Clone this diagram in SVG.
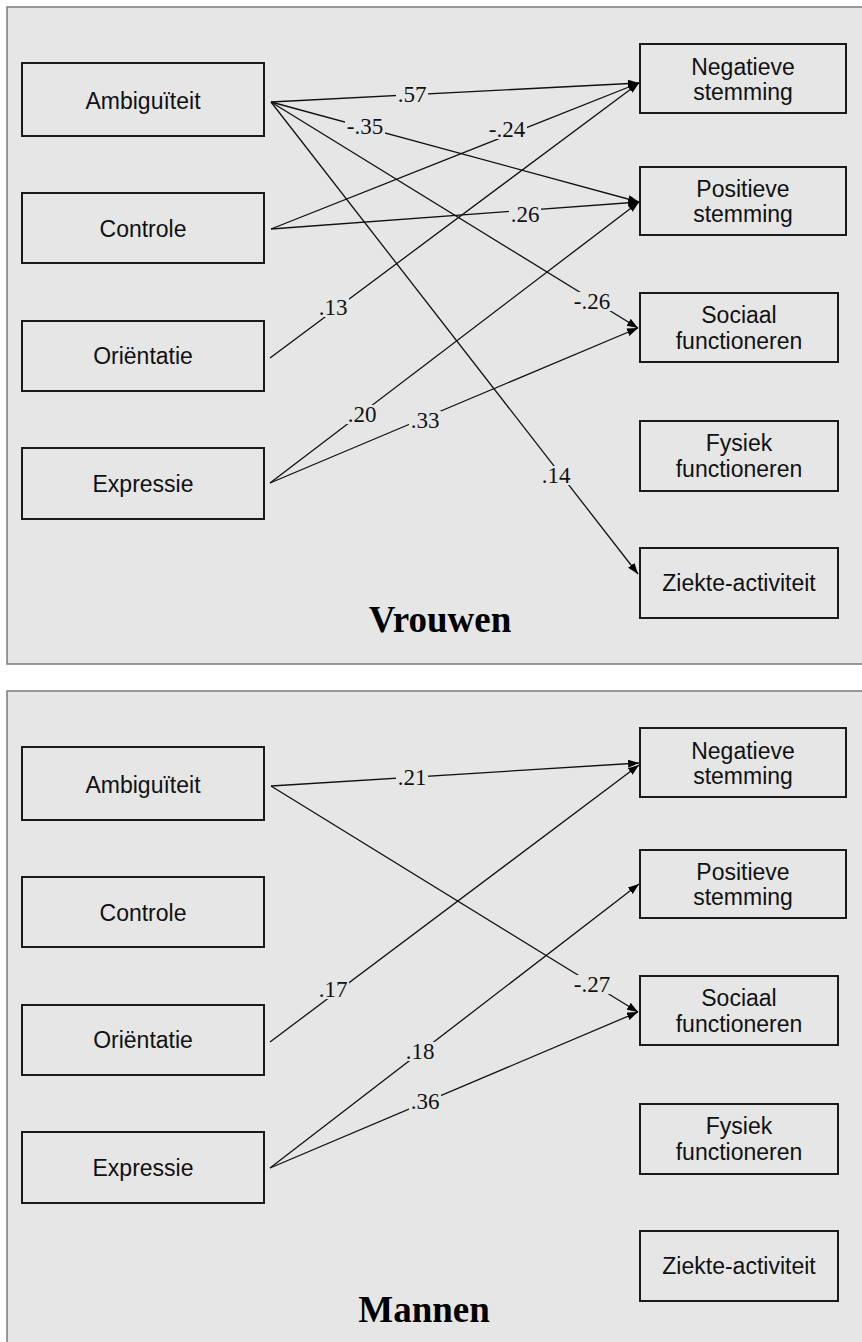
<svg xmlns="http://www.w3.org/2000/svg" width="862" height="1342" viewBox="0 0 862 1342">
<style>
.panel{fill:#e6e6e6;stroke:#7a7a7a;stroke-width:1.5}
.box{fill:none;stroke:#1a1a1a;stroke-width:2}
.bt{font-family:"Liberation Sans",Arial,sans-serif;font-size:23px;fill:#111;text-anchor:middle}
.lbl{font-family:"Liberation Serif","Times New Roman",serif;font-size:23px;fill:#111;text-anchor:middle}
.lb{fill:#e6e6e6}
.title{font-family:"Liberation Serif","Times New Roman",serif;font-size:37px;font-weight:bold;fill:#000;text-anchor:middle}
.edge{stroke:#111;stroke-width:1.3;fill:none;marker-end:url(#ah)}
</style>
<defs>
<marker id="ah" markerUnits="userSpaceOnUse" markerWidth="12" markerHeight="9" refX="11" refY="4" orient="auto">
<path d="M0,0 L11,4 L0,8 z" fill="#000"/>
</marker>
</defs>
<rect width="862" height="1342" fill="#fff"/>
<rect class="panel" x="7" y="7" width="860" height="657"/>
<rect class="panel" x="7" y="691" width="860" height="670"/>

<!-- Top panel: Vrouwen -->
<g id="connectors-top">
<line class="edge" x1="271" y1="102" x2="639" y2="83"/>
<line class="edge" x1="271" y1="102" x2="639" y2="202"/>
<line class="edge" x1="271" y1="102" x2="638" y2="328"/>
<line class="edge" x1="271" y1="102" x2="638" y2="574"/>
<line class="edge" x1="271" y1="229" x2="639" y2="83"/>
<line class="edge" x1="271" y1="229" x2="639" y2="202"/>
<line class="edge" x1="270" y1="358" x2="639" y2="83"/>
<line class="edge" x1="270" y1="483" x2="639" y2="202"/>
<line class="edge" x1="270" y1="483" x2="638" y2="328"/>
<rect class="lb" x="396" y="85" width="32" height="19"/><text class="lbl" x="412" y="102">.57</text>
<rect class="lb" x="345" y="117" width="40" height="19"/><text class="lbl" x="365" y="134">-.35</text>
<rect class="lb" x="487" y="120" width="40" height="19"/><text class="lbl" x="507" y="137">-.24</text>
<rect class="lb" x="509" y="205" width="32" height="19"/><text class="lbl" x="525" y="222">.26</text>
<rect class="lb" x="317" y="298" width="32" height="19"/><text class="lbl" x="333" y="315">.13</text>
<rect class="lb" x="572" y="292" width="40" height="19"/><text class="lbl" x="592" y="309">-.26</text>
<rect class="lb" x="346" y="405" width="32" height="19"/><text class="lbl" x="362" y="422">.20</text>
<rect class="lb" x="409" y="411" width="32" height="19"/><text class="lbl" x="425" y="428">.33</text>
<rect class="lb" x="540" y="466" width="32" height="19"/><text class="lbl" x="556" y="483">.14</text>
</g>
<g id="t-ambiguiteit"><rect class="box" x="22" y="63" width="242" height="73"/><text class="bt" x="143" y="109">Ambiguïteit</text></g>
<g id="t-controle"><rect class="box" x="22" y="193" width="242" height="70"/><text class="bt" x="143" y="237">Controle</text></g>
<g id="t-orientatie"><rect class="box" x="22" y="321" width="242" height="70"/><text class="bt" x="143" y="364">Oriëntatie</text></g>
<g id="t-expressie"><rect class="box" x="22" y="448" width="242" height="71"/><text class="bt" x="143" y="492">Expressie</text></g>
<g id="t-negatieve"><rect class="box" x="640" y="44" width="206" height="69"/><text class="bt" x="743" y="75">Negatieve</text><text class="bt" x="743" y="100">stemming</text></g>
<g id="t-positieve"><rect class="box" x="640" y="167" width="206" height="68"/><text class="bt" x="743" y="197">Positieve</text><text class="bt" x="743" y="222">stemming</text></g>
<g id="t-sociaal"><rect class="box" x="640" y="293" width="198" height="69"/><text class="bt" x="739" y="323">Sociaal</text><text class="bt" x="739" y="349">functioneren</text></g>
<g id="t-fysiek"><rect class="box" x="640" y="421" width="198" height="70"/><text class="bt" x="739" y="451">Fysiek</text><text class="bt" x="739" y="477">functioneren</text></g>
<g id="t-ziekte"><rect class="box" x="640" y="548" width="198" height="70"/><text class="bt" x="739" y="591">Ziekte-activiteit</text></g>
<text class="title" x="440" y="632">Vrouwen</text>

<!-- Bottom panel: Mannen -->
<g id="connectors-bottom">
<line class="edge" x1="271" y1="786" x2="639" y2="763"/>
<line class="edge" x1="271" y1="786" x2="638" y2="1012"/>
<line class="edge" x1="270" y1="1042" x2="639" y2="765"/>
<line class="edge" x1="270" y1="1168" x2="639" y2="884"/>
<line class="edge" x1="270" y1="1168" x2="638" y2="1012"/>
<rect class="lb" x="396" y="768" width="32" height="19"/><text class="lbl" x="412" y="785">.21</text>
<rect class="lb" x="317" y="980" width="32" height="19"/><text class="lbl" x="333" y="997">.17</text>
<rect class="lb" x="572" y="975" width="40" height="19"/><text class="lbl" x="592" y="992">-.27</text>
<rect class="lb" x="404" y="1042" width="32" height="19"/><text class="lbl" x="420" y="1059">.18</text>
<rect class="lb" x="409" y="1092" width="32" height="19"/><text class="lbl" x="425" y="1109">.36</text>
</g>
<g id="m-ambiguiteit"><rect class="box" x="22" y="747" width="242" height="73"/><text class="bt" x="143" y="793">Ambiguïteit</text></g>
<g id="m-controle"><rect class="box" x="22" y="877" width="242" height="70"/><text class="bt" x="143" y="921">Controle</text></g>
<g id="m-orientatie"><rect class="box" x="22" y="1005" width="242" height="70"/><text class="bt" x="143" y="1048">Oriëntatie</text></g>
<g id="m-expressie"><rect class="box" x="22" y="1132" width="242" height="71"/><text class="bt" x="143" y="1176">Expressie</text></g>
<g id="m-negatieve"><rect class="box" x="640" y="728" width="206" height="69"/><text class="bt" x="743" y="759">Negatieve</text><text class="bt" x="743" y="784">stemming</text></g>
<g id="m-positieve"><rect class="box" x="640" y="850" width="206" height="68"/><text class="bt" x="743" y="880">Positieve</text><text class="bt" x="743" y="905">stemming</text></g>
<g id="m-sociaal"><rect class="box" x="640" y="976" width="198" height="69"/><text class="bt" x="739" y="1006">Sociaal</text><text class="bt" x="739" y="1032">functioneren</text></g>
<g id="m-fysiek"><rect class="box" x="640" y="1104" width="198" height="70"/><text class="bt" x="739" y="1134">Fysiek</text><text class="bt" x="739" y="1160">functioneren</text></g>
<g id="m-ziekte"><rect class="box" x="640" y="1231" width="198" height="70"/><text class="bt" x="739" y="1274">Ziekte-activiteit</text></g>
<text class="title" x="424" y="1322">Mannen</text>
</svg>
